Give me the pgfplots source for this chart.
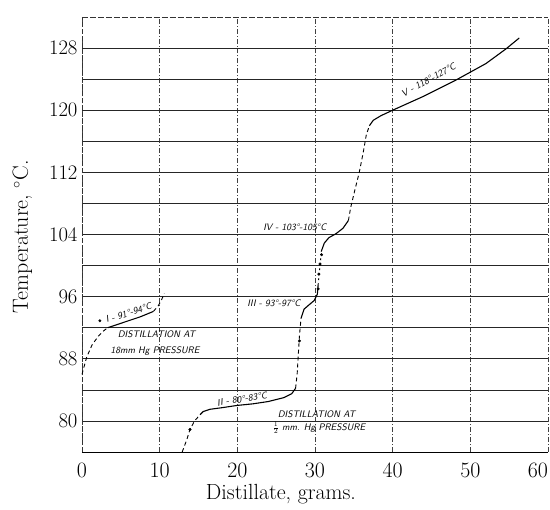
\documentclass[border=0pt]{standalone}
\usepackage{pgfplots}
\pgfplotsset{compat=1.18}
\begin{document}
\begin{tikzpicture}
\begin{axis}[
  at={(0,0)}, anchor=south west,
  scale only axis, width=466bp, height=435bp,
  xmin=0, xmax=60, ymin=76, ymax=132,
  xtick={0,10,...,60}, ytick={80,88,...,128},
  xticklabels={0,10,20,30,40,50,\llap{60}},
  minor ytick={84,92,...,124},
  xmajorgrids, ymajorgrids, yminorgrids,
  major x grid style={black!75, line width=0.5pt, dash pattern=on 5pt off 2pt on 1pt off 2pt},
  major y grid style={black!85, line width=0.7pt},
  minor y grid style={black!85, line width=0.7pt},
  major tick length=0pt, minor tick length=0pt,
  axis line style={draw=none},
  tick label style={font=\fontsize{22}{24}\selectfont},
  yticklabel style={anchor=east, xshift=-1bp},
  xticklabel style={anchor=north, yshift=-7bp},
  label style={font=\fontsize{22}{24}\selectfont},
  xlabel={Distillate, grams.},
  ylabel={Temperature, $^{\circ}$C.},
  xlabel style={at={(axis description cs:0.427,-0.11)}, anchor=base},
  ylabel style={at={(axis description cs:-0.1159,0.495)}, anchor=base},
  clip=false,
]
% frame
\draw[black!80, line width=0.6pt, dash pattern=on 5pt off 2pt] (axis cs:0,76) -- (axis cs:0,132);
\draw[black!80, line width=0.6pt, dash pattern=on 6pt off 2pt] (axis cs:0,132) -- (axis cs:60,132);
\draw[black, line width=0.9pt] (axis cs:0,76) -- (axis cs:60,76);

% --- Distillation at 18 mm Hg ---
\addplot[black, line width=0.9pt, dash pattern=on 4pt off 3pt] coordinates {(0,86) (0.6,88.2) (1.3,89.8) (2.1,90.9) (2.8,91.6) (3.3,92)};
\addplot[black, line width=1.1pt] coordinates {(3.3,92) (4.5,92.4) (6,92.9) (7.5,93.4) (9.2,94.1)};
\addplot[black, line width=0.9pt, dash pattern=on 4pt off 3pt] coordinates {(9.2,94.1) (9.8,94.8) (10.2,95.5) (10.6,96.4)};
\addplot[black, only marks, mark=*, mark size=1.3pt] coordinates {(2.3,92.9)};

% --- Distillation at 1/2 mm Hg ---
\addplot[black, line width=0.9pt, dash pattern=on 4pt off 3pt] coordinates {(12.9,76) (13.5,77.6) (13.9,78.9) (14.5,80) (15.2,80.8)};
\addplot[black, line width=1.1pt] coordinates {(15.2,80.8) (15.6,81.2) (16.5,81.5) (18,81.7) (20,82) (22,82.2) (24,82.5) (26,83) (27,83.5) (27.5,84.2)};
\addplot[black, line width=0.9pt, dash pattern=on 4pt off 3pt] coordinates {(27.5,84.2) (27.7,86) (27.85,88.5) (28,91) (28.2,93.2)};
\addplot[black, line width=1.1pt] coordinates {(28.2,93.2) (28.6,94.4) (29.3,95) (29.9,95.5) (30.3,96.3) (30.4,97.5)};
\addplot[black, line width=0.9pt, dash pattern=on 2pt off 3pt] coordinates {(30.4,97.5) (30.6,99.5) (30.8,101.5)};
\addplot[black, line width=1.1pt] coordinates {(30.8,101.8) (31.2,102.9) (31.8,103.6) (32.7,104.1) (33.6,104.8) (34.3,105.8)};
\addplot[black, line width=0.9pt, dash pattern=on 4pt off 3pt] coordinates {(34.3,105.8) (34.6,107.5) (35.2,110) (35.7,112) (36.2,114.5) (36.6,116.8) (37,118)};
\addplot[black, line width=1.1pt] coordinates {(37,118) (37.5,118.7) (38.5,119.3) (40,120) (44,121.8) (48,123.8) (52,126) (54.6,127.9) (56.3,129.3)};
\addplot[black, only marks, mark=*, mark size=1.3pt] coordinates {(13.9,78.9) (28,90.3) (30.4,97) (30.5,98.9) (30.65,100.2) (30.85,101.4)};

% --- annotations ---
\begin{scope}[every node/.style={font=\fontsize{9.5}{11}\selectfont\sffamily\itshape, inner sep=0pt}]
\node[rotate=17] at (axis cs:6.0,93.9) {I - 91\textdegree-94\textdegree C};
\node at (axis cs:9.6,91.1) {DISTILLATION AT};
\node at (axis cs:9.4,89.0) {18mm Hg PRESSURE};
\node[rotate=9] at (axis cs:20.6,82.8) {II - 80\textdegree-83\textdegree C};
\node at (axis cs:30.2,80.9) {DISTILLATION AT};
\node at (axis cs:30.5,79.1) {$\frac{1}{2}$ mm. Hg PRESSURE};
\node at (axis cs:24.7,95.2) {III - 93\textdegree-97\textdegree C};
\node at (axis cs:27.4,104.9) {IV - 103\textdegree-105\textdegree C};
\node[rotate=29] at (axis cs:44.6,123.9) {V - 118\textdegree-127\textdegree C};
\end{scope}
\end{axis}
\pgfresetboundingbox
\useasboundingbox (-82bp,-58bp) rectangle (468bp,452bp);
\end{tikzpicture}
\end{document}
